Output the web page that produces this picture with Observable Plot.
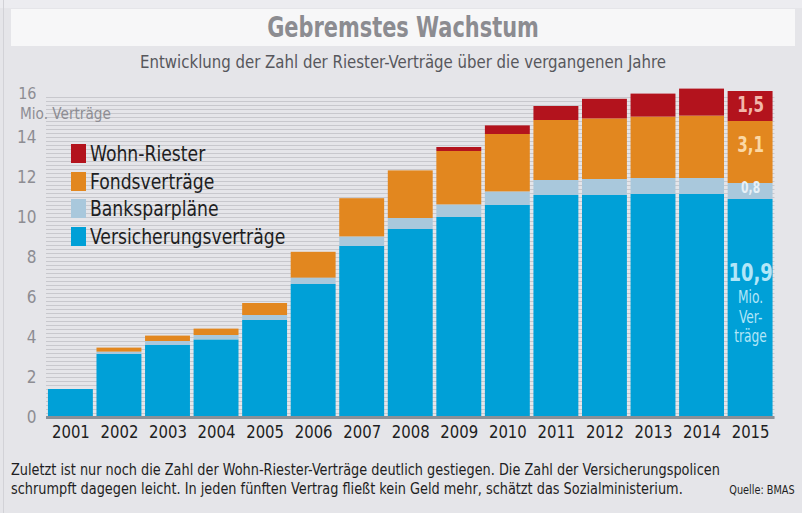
<!DOCTYPE html>
<html>
<head>
<meta charset="utf-8">
<script src="https://cdn.jsdelivr.net/npm/d3@7"></script>
<script src="https://cdn.jsdelivr.net/npm/@observablehq/plot@0.6"></script>
<style>
  html, body { margin:0; padding:0; }
  body { width:802px; height:513px; background:#e5e5e9; position:relative; overflow:hidden;
         font-family:"DejaVu Sans Condensed","Liberation Sans Narrow","Roboto",sans-serif; }
  .abs { position:absolute; }
  #topstrip { left:0; top:0; width:802px; height:8px; background:#ececf0; }
  #leftline { left:3px; top:0; width:1px; height:513px; background:#d2d2d7; }
  #band { left:11px; top:9px; width:784px; height:37px; background:#f7f7f8; }
  #title { left:11px; top:9px; width:784px; height:37px; line-height:37px; text-align:center;
           font-size:28px; font-weight:bold; color:#8c8c91; transform:scaleX(0.83); transform-origin:392px 50%; }
  #subtitle { left:11px; top:52px; width:784px; text-align:center; font-size:17.5px; color:#57575c;
              transform:scaleX(0.95); transform-origin:392px 50%; }
  #chart { left:0; top:80px; }
  #ylabel { left:20px; top:107px; font-size:16.5px; line-height:14px; color:#8d8d93; white-space:nowrap; transform:scaleX(0.92); transform-origin:0 50%; }
  #legend { left:71px; top:140px; }
  .li { position:relative; height:27.5px; display:flex; align-items:center; font-size:22px; color:#1e1e22; white-space:nowrap; }
  .sw { width:15px; height:19px; margin-right:4px; flex:none; }
  .lt { display:inline-block; transform:scaleX(0.87); transform-origin:0 50%; }
  #caption { left:11px; top:461px; font-size:16px; line-height:18.5px; color:#1e1e22; white-space:nowrap;
             transform:scaleX(0.895); transform-origin:0 50%; }
  #source { right:7px; top:483px; font-size:12px; color:#1e1e22; transform:scaleX(0.9); transform-origin:100% 50%; }
</style>
</head>
<body>
<div id="topstrip" class="abs"></div>
<div id="leftline" class="abs"></div>
<div id="band" class="abs"></div>
<div id="title" class="abs">Gebremstes Wachstum</div>
<div id="subtitle" class="abs">Entwicklung der Zahl der Riester-Verträge über die vergangenen Jahre</div>
<div id="chart" class="abs"></div>
<div id="ylabel" class="abs">Mio. Verträge</div>
<div id="legend" class="abs"></div>
<div id="caption" class="abs">Zuletzt ist nur noch die Zahl der Wohn-Riester-Verträge deutlich gestiegen. Die Zahl der Versicherungspolicen<br>schrumpft dagegen leicht. In jeden fünften Vertrag fließt kein Geld mehr, schätzt das Sozialministerium.</div>
<div id="source" class="abs">Quelle: BMAS</div>
<script>
// ---- data (Mio. Verträge) ----
const years = ["2001","2002","2003","2004","2005","2006","2007","2008","2009","2010","2011","2012","2013","2014","2015"];
const versicherung = [1.4, 3.15, 3.6, 3.88, 4.85, 6.65, 8.55, 9.4, 10.0, 10.6, 11.1, 11.1, 11.15, 11.15, 10.9];
const bank         = [0, 0.12, 0.2, 0.22, 0.25, 0.32, 0.48, 0.55, 0.63, 0.68, 0.75, 0.8, 0.8, 0.8, 0.8];
const fonds        = [0, 0.2, 0.27, 0.32, 0.6, 1.29, 1.91, 2.38, 2.67, 2.87, 3.0, 3.03, 3.07, 3.12, 3.1];
const wohn         = [0, 0, 0, 0, 0, 0, 0, 0, 0.2, 0.43, 0.7, 0.98, 1.15, 1.35, 1.5];
const seriesNames  = ["Versicherungsverträge", "Banksparpläne", "Fondsverträge", "Wohn-Riester"];
const seriesColors = ["#00a0d7", "#a9c8dc", "#e2871f", "#b3131d"];
const legendOrder  = ["Wohn-Riester", "Fondsverträge", "Banksparpläne", "Versicherungsverträge"];
const yTicks = [0, 2, 4, 6, 8, 10, 12, 14, 16];
const lastLabels = ["10,9", "0,8", "3,1", "1,5"];

const seriesValues = [versicherung, bank, fonds, wohn];
const rows = [];
seriesNames.forEach((s, si) => years.forEach((yr, i) => rows.push({year: yr, series: s, value: seriesValues[si][i]})));

// grid every 0.2
const grid = d3.range(0, 80.5, 1).map(k => k / 5);

// 2015 annotation positions from stacked values
const li = years.length - 1;
const c0 = versicherung[li], c1 = c0 + bank[li], c2 = c1 + fonds[li], c3 = c2 + wohn[li];
const ann = [
  {year: years[li], y: (c2 + c3) / 2, text: lastLabels[3], fill: "#f2b7ab", size: 21, dy: -1},
  {year: years[li], y: (c1 + c2) / 2, text: lastLabels[2], fill: "#fbd8a4", size: 21, dy: -7},
  {year: years[li], y: (c0 + c1) / 2, text: lastLabels[1], fill: "#e8f1f7", size: 15, dy: -3}
];

const font = '"DejaVu Sans Condensed","Liberation Sans Narrow",sans-serif';

const chart = Plot.plot({
  width: 802,
  height: 365,
  marginLeft: 46,
  marginRight: 27.5,
  marginTop: 17,
  marginBottom: 28,
  style: {background: "transparent", fontFamily: font, overflow: "visible"},
  x: {domain: years, paddingInner: 0.075, paddingOuter: 0.04, round: false, label: null},
  y: {domain: [0, 16], label: null},
  color: {domain: seriesNames, range: seriesColors},
  marks: [
    Plot.ruleY(grid, {stroke: "#c8c8cd", strokeWidth: 1}),
    Plot.barY(rows, {x: "year", y: "value", fill: "series", order: seriesNames}),
    Plot.ruleY([0], {stroke: "#8a9097", strokeWidth: 3}),
    Plot.axisY({ticks: yTicks, tickSize: 0, tickPadding: 10, fontSize: 17, color: "#8d8d93", label: null, tickFormat: d => d}),
    Plot.axisX({tickSize: 0, tickPadding: 8, fontSize: 18, color: "#1e1e22", label: null}),
    ...ann.map(a => Plot.text([a], {x: "year", y: "y", text: "text", fill: a.fill, fontSize: a.size, fontWeight: "bold", dy: a.dy})),
    Plot.text([{year: years[li], y: c0 / 2, text: String(c0).replace(".", ",")}], {x: "year", y: "y", text: "text", fill: "#b3e6f8", fontSize: 25, fontWeight: "bold", dy: -36}),
    Plot.text([{year: years[li], y: c0 / 2, text: "Mio.\nVer-\nträge"}], {x: "year", y: "y", text: "text", fill: "#b3e6f8", fontSize: 17, lineHeight: 1.15, lineAnchor: "top", dy: -19})
  ]
});
// condense annotation glyphs horizontally (font is wider than the original's)
chart.querySelectorAll('g[aria-label="text"] text').forEach(t => {
  const tr = t.getAttribute("transform") || "";
  t.setAttribute("transform", tr + " scale(0.8,1)");
});
chart.querySelectorAll('g[aria-label="x-axis tick label"] text').forEach(t => {
  const tr = t.getAttribute("transform") || "";
  t.setAttribute("transform", tr + " scale(0.92,1)");
});
// top tick label sits a little above its gridline in the original
chart.querySelectorAll('g[aria-label="y-axis tick label"] text').forEach(t => {
  if (t.textContent.trim() === String(yTicks[yTicks.length - 1])) {
    const tr = t.getAttribute("transform") || "";
    t.setAttribute("transform", tr + " translate(0,-4)");
    t.setAttribute("font-size", "16");
  }
});
document.getElementById("chart").appendChild(chart);

// legend
const leg = document.getElementById("legend");
legendOrder.forEach(name => {
  const d = document.createElement("div");
  d.className = "li";
  const sw = document.createElement("span");
  sw.className = "sw";
  sw.style.background = seriesColors[seriesNames.indexOf(name)];
  d.appendChild(sw);
  const tx = document.createElement("span");
  tx.className = "lt";
  tx.textContent = name;
  d.appendChild(tx);
  leg.appendChild(d);
});
</script>
</body>
</html>
